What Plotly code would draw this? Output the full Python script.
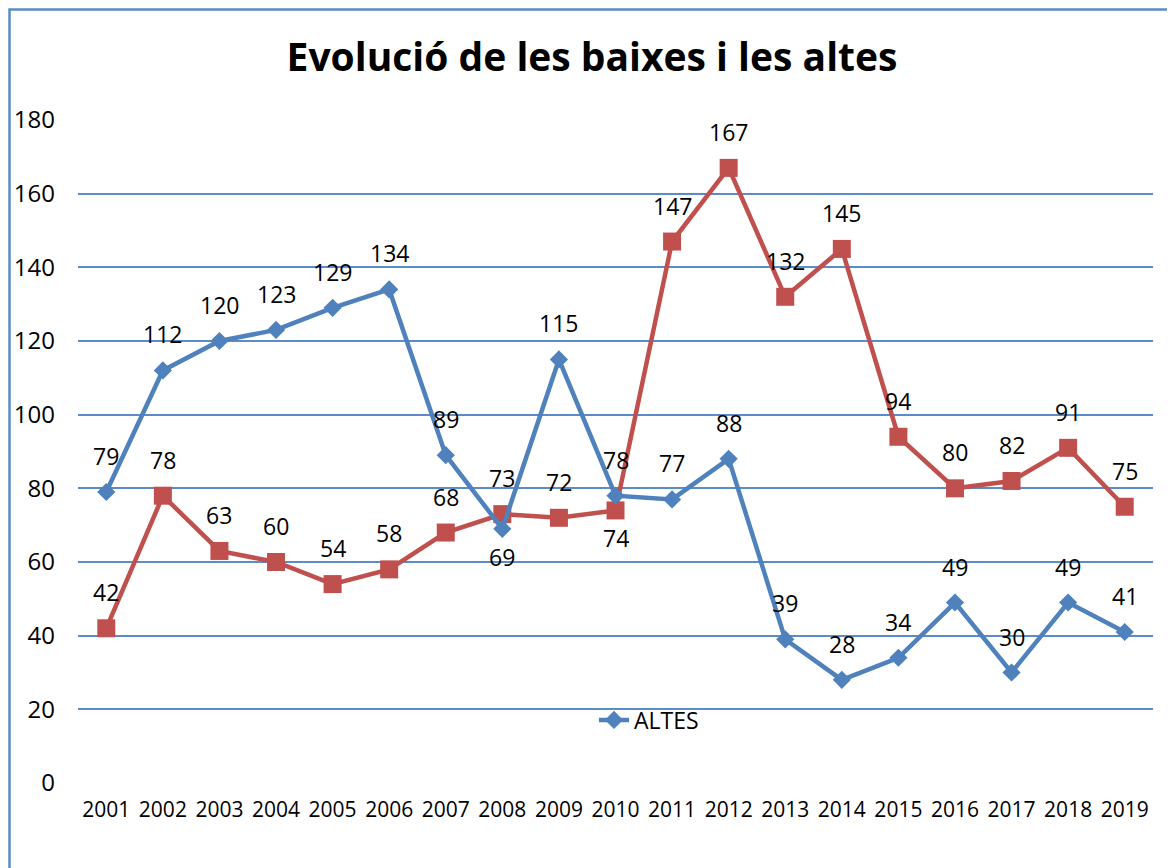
import plotly.graph_objects as go

years = [2001, 2002, 2003, 2004, 2005, 2006, 2007, 2008, 2009, 2010,
         2011, 2012, 2013, 2014, 2015, 2016, 2017, 2018, 2019]
altes = [79, 112, 120, 123, 129, 134, 89, 69, 115, 78, 77, 88, 39, 28, 34, 49, 30, 49, 41]
baixes = [42, 78, 63, 60, 54, 58, 68, 73, 72, 74, 147, 167, 132, 145, 94, 80, 82, 91, 75]
y_ticks = [0, 20, 40, 60, 80, 100, 120, 140, 160, 180]

BLUE = "#4F81BD"
RED = "#C0504D"
FONT = "Open Sans"

fig = go.Figure()
fig.add_trace(go.Scatter(
    x=years, y=baixes, name="BAIXES", mode="lines+markers", showlegend=False,
    line=dict(color=RED, width=4.5),
    marker=dict(symbol="square", size=18, color=RED),
    cliponaxis=False,
))
fig.add_trace(go.Scatter(
    x=years, y=altes, name="ALTES", mode="lines+markers",
    line=dict(color=BLUE, width=4.5),
    marker=dict(symbol="diamond", size=14, color=BLUE),
    cliponaxis=False,
))

below = {("A", 2008), ("B", 2010)}
annotations = []
for key, series in (("A", altes), ("B", baixes)):
    for xv, yv in zip(years, series):
        shift = -28 if (key, xv) in below else 36
        annotations.append(dict(
            x=xv, y=yv, xref="x", yref="y", text=str(yv), showarrow=False,
            yshift=shift, font=dict(family=FONT, size=23, color="black"),
        ))

OFF = 8  # page offset of the figure in the browser
L, T = 78 - OFF, 120 - OFF
pw, ph = 1075, 663
W, H = 1175 - OFF, 868 - OFF
R = W - L - pw
B = H - T - ph

fig.update_layout(
    width=W, height=H,
    margin=dict(l=L, r=R, t=T, b=B, autoexpand=False),
    paper_bgcolor="white", plot_bgcolor="white",
    font=dict(family=FONT, color="black"),
    title=dict(text="<b>Evolució de les baixes i les altes</b>",
               x=(592 - OFF) / W, xref="container", xanchor="center",
               y=1 - (57 - OFF) / H, yref="container", yanchor="middle",
               font=dict(family=FONT, size=39, color="black")),
    showlegend=True,
    legend=dict(x=(594 - 78) / pw, y=(783 - 720) / ph, xanchor="left", yanchor="middle",
                orientation="h", bgcolor="rgba(0,0,0,0)",
                font=dict(family=FONT, size=23, color="black")),
    annotations=annotations,
    shapes=[dict(type="rect", xref="paper", yref="paper",
                 x0=(1.5 - L) / pw, x1=(W + 20 - L) / pw,
                 y0=-0.3, y1=(T + ph - 1.5) / ph,
                 line=dict(color="#5B8BC8", width=2.5), fillcolor="rgba(0,0,0,0)",
                 layer="below")],
)
fig.update_xaxes(range=[2000.5, 2019.5], tickvals=years, ticktext=[str(y) for y in years],
                 showgrid=False, zeroline=False, showline=False, ticks="", tickangle=0,
                 ticklabelstandoff=12, automargin=False,
                 tickfont=dict(family=FONT, size=21, color="black"))
fig.update_yaxes(range=[0, 180], tickvals=y_ticks, showgrid=True, gridcolor="#5B8BC8",
                 gridwidth=1.5, zeroline=False, showline=False, ticks="",
                 ticklabelstandoff=22, automargin=False,
                 tickfont=dict(family=FONT, size=24, color="black"))

fig.write_html("out.html")
